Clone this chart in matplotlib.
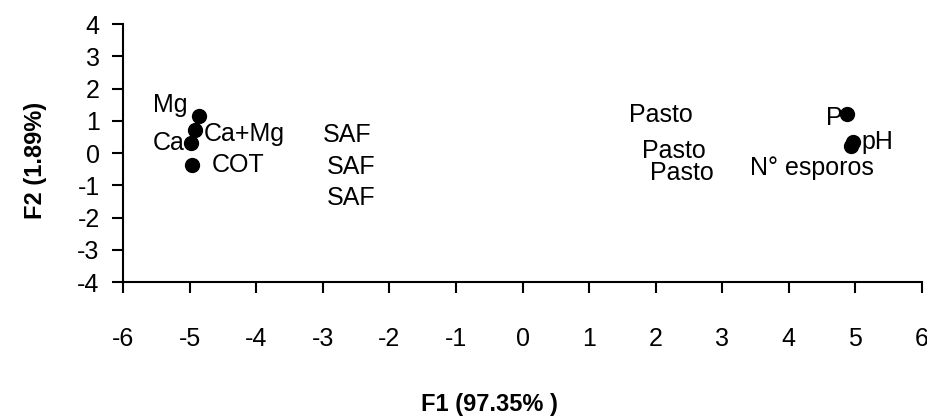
import matplotlib.pyplot as plt

plt.rcParams['font.family'] = ['Liberation Sans', 'DejaVu Sans']
plt.rcParams['axes.unicode_minus'] = False

# variables (marked points)
var_names = ["Mg", "Ca+Mg", "Ca", "COT", "P", "pH", "N° esporos"]
var_x = [-4.87, -4.92, -4.98, -4.97, 4.87, 4.97, 4.94]
var_y = [1.15, 0.72, 0.32, -0.37, 1.21, 0.36, 0.22]

# sites (label only)
site_names = ["SAF", "SAF", "SAF", "Pasto", "Pasto", "Pasto"]
site_x = [-2.63, -2.58, -2.58, 2.08, 2.28, 2.40]
site_y = [0.57, -0.43, -1.39, 1.18, 0.07, -0.62]

xticks = list(range(-6, 7))
yticks = list(range(-4, 5))

# label offsets (points) and alignment for the variable labels
offsets = {
    "Mg": ((-8, 8), "right"),
    "Ca+Mg": ((6, -3), "left"),
    "Ca": ((-5, 0), "right"),
    "COT": ((14, 0), "left"),
    "P": ((-3, -3), "right"),
    "pH": ((6, 0), "left"),
    "N° esporos": ((-28, -16), "center"),
}

fig = plt.figure(figsize=(9.28, 4.19), dpi=100)
ax = fig.add_axes([0.1329, 0.3263, 0.8603, 0.6164])

ax.plot(var_x, var_y, "o", color="black", ms=10, clip_on=False)
fs = 18
for name, x, y in zip(var_names, var_x, var_y):
    (dx, dy), ha = offsets[name]
    ax.annotate(name, (x, y), xytext=(dx, dy), textcoords="offset points",
                ha=ha, va="center", fontsize=fs)
for name, x, y in zip(site_names, site_x, site_y):
    ax.text(x, y, name, ha="center", va="center", fontsize=fs)

ax.set_xlim(-6, 6)
ax.set_ylim(-4, 4)
ax.set_xticks(xticks)
ax.set_yticks(yticks)
ax.spines["top"].set_visible(False)
ax.spines["right"].set_visible(False)
for s in ["left", "bottom"]:
    ax.spines[s].set_linewidth(1.5)
ax.tick_params(axis="x", direction="out", length=8, width=1.5, pad=24, labelsize=fs)
ax.tick_params(axis="y", direction="out", length=8, width=1.5, pad=9, labelsize=fs)

ax.set_xlabel("F1 (97.35% )", fontsize=17, fontweight="bold")
ax.xaxis.set_label_coords(0.459, -0.43)
ax.set_ylabel("F2 (1.89%)", fontsize=17, fontweight="bold")
ax.yaxis.set_label_coords(-0.095, 0.473)

fig.savefig("out.png", dpi=100)
